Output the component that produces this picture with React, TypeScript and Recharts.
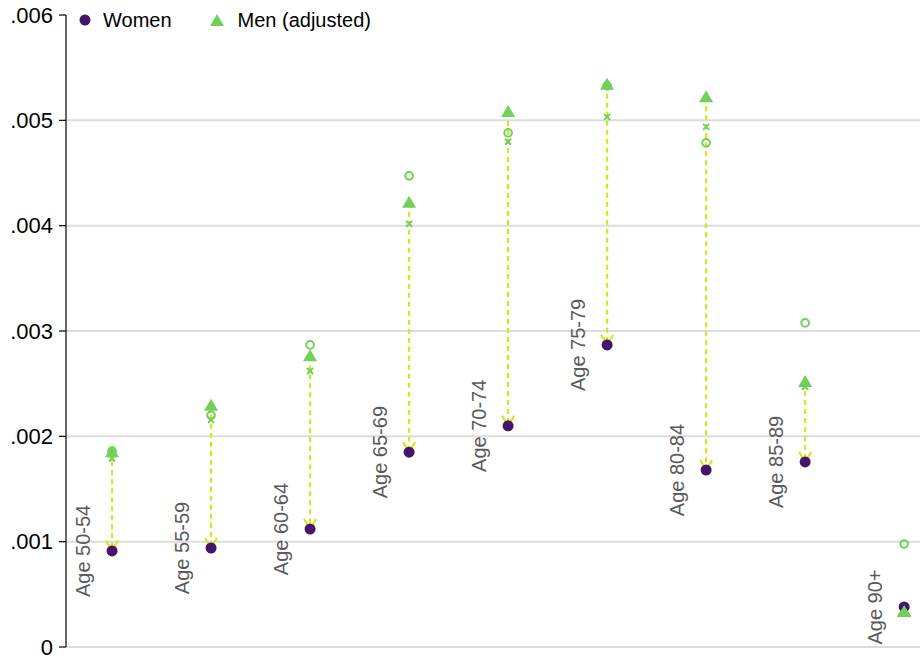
import React from 'react';
import { ScatterChart, Scatter, XAxis, YAxis, ReferenceLine } from 'recharts';

// age groups, left to right
const ages = ['Age 50-54', 'Age 55-59', 'Age 60-64', 'Age 65-69', 'Age 70-74', 'Age 75-79', 'Age 80-84', 'Age 85-89', 'Age 90+'];

// rates per age group
const women = [0.000912, 0.00094, 0.00112, 0.00185, 0.0021, 0.002868, 0.00168, 0.001757, 0.00038];
const menAdjusted = [0.00185, 0.00229, 0.00276, 0.004217, 0.00508, 0.005337, 0.00522, 0.002517, 0.000332];
const menCircle = [0.00186, 0.0022, 0.002868, 0.004473, 0.004881, 0.005328, 0.004786, 0.003077, 0.000978];
const menCross = [0.00179, 0.002156, 0.002621, 0.004017, 0.004796, 0.005033, 0.004938, 0.00247, 0.00032];

const yTicks = [0, 0.001, 0.002, 0.003, 0.004, 0.005, 0.006];
const gridValues = [0, 0.001, 0.002, 0.003, 0.004, 0.005];

const FONT = '"Liberation Sans", Arial, sans-serif';
const PURPLE = '#44156a';
const GREEN = '#6fd05a';
const ARROW = '#d4e61c';
const ARROW_UP = '#e8364f';

const pts = (vals: number[]) => vals.map((y, i) => ({ x: i + 1, y, age: ages[i] }));

const fmtTick = (v: number) => (v === 0 ? '0' : v.toFixed(3).replace(/^0/, ''));

const womanDot = (p: any) => <circle cx={p.cx} cy={p.cy} r={5.5} fill={PURPLE} />;

const triangle = (p: any) => {
  const { cx, cy } = p;
  return <path d={`M${cx},${cy - 7} L${cx + 7},${cy + 5} L${cx - 7},${cy + 5} Z`} fill={GREEN} />;
};

const ring = (p: any) => <circle cx={p.cx} cy={p.cy} r={3.8} fill="none" stroke={GREEN} strokeWidth={2} />;

const cross = (p: any) => {
  const { cx, cy } = p;
  const s = 3;
  return (
    <g stroke={GREEN} strokeWidth={2}>
      <line x1={cx - s} y1={cy - s} x2={cx + s} y2={cy + s} />
      <line x1={cx - s} y1={cy + s} x2={cx + s} y2={cy - s} />
    </g>
  );
};

const ageLabel = (p: any) => {
  const x = p.cx - 22;
  return (
    <text
      x={x}
      y={p.cy}
      transform={`rotate(-90 ${x} ${p.cy})`}
      textAnchor="middle"
      fontSize={20}
      fontFamily={FONT}
      fill="#595959"
    >
      {p.payload.age}
    </text>
  );
};

// dashed line with an open arrowhead at the far end
const arrowShape = (color: string) => (p: any) => {
  const { x1, y1, x2, y2 } = p;
  const dx = x2 - x1;
  const dy = y2 - y1;
  const len = Math.hypot(dx, dy) || 1;
  const ux = dx / len;
  const uy = dy / len;
  const bx = x2 - ux * 10;
  const by = y2 - uy * 10;
  const h = 6;
  return (
    <g>
      <line x1={x1} y1={y1} x2={x2} y2={y2} stroke={color} strokeWidth={2.2} strokeDasharray="5 4" />
      <polyline
        points={`${bx - uy * h},${by + ux * h} ${x2},${y2} ${bx + uy * h},${by - ux * h}`}
        fill="none"
        stroke={color}
        strokeWidth={2.2}
      />
    </g>
  );
};

const Legend = () => (
  <div
    style={{
      position: 'absolute',
      top: 8,
      left: 79,
      height: 24,
      display: 'flex',
      alignItems: 'center',
      fontFamily: FONT,
      fontSize: 20,
      color: '#000',
    }}
  >
    <svg width={12} height={12} style={{ marginRight: 12 }}>
      <circle cx={6} cy={6} r={5.5} fill={PURPLE} />
    </svg>
    <span>Women</span>
    <svg width={16} height={14} style={{ marginLeft: 37, marginRight: 13 }}>
      <path d="M8,1 L15,13 L1,13 Z" fill={GREEN} />
    </svg>
    <span>Men (adjusted)</span>
  </div>
);

export default function App() {
  return (
    <div style={{ position: 'absolute', left: 0, top: 0, width: 920, height: 660, background: '#fff' }}>
      <ScatterChart width={920} height={660} margin={{ top: 15, right: 0, bottom: 13, left: 0 }}>
        <XAxis type="number" dataKey="x" domain={[0.535, 9.16]} hide />
        <YAxis
          type="number"
          dataKey="y"
          domain={[0, 0.006]}
          ticks={yTicks}
          interval={0}
          width={66}
          tickFormatter={fmtTick}
          tick={{ fill: '#000', fontSize: 22, fontFamily: FONT }}
          tickSize={7}
          tickMargin={6}
          axisLine={{ stroke: '#000', strokeWidth: 1.2 }}
          tickLine={{ stroke: '#000', strokeWidth: 1.2 }}
        />
        {gridValues.map((v) => (
          <ReferenceLine key={`g${v}`} y={v} stroke="#dcdcdc" strokeWidth={2} />
        ))}
        {ages.map((a, i) => (
          <ReferenceLine
            key={`a${a}`}
            segment={[
              { x: i + 1, y: menAdjusted[i] },
              { x: i + 1, y: women[i] },
            ]}
            ifOverflow="visible"
            shape={arrowShape(menAdjusted[i] < women[i] ? ARROW_UP : ARROW)}
          />
        ))}
        <Scatter data={pts(women)} shape={ageLabel} isAnimationActive={false} />
        <Scatter data={pts(women)} shape={womanDot} isAnimationActive={false} />
        <Scatter data={pts(menCircle)} shape={ring} isAnimationActive={false} />
        <Scatter data={pts(menCross)} shape={cross} isAnimationActive={false} />
        <Scatter data={pts(menAdjusted)} shape={triangle} isAnimationActive={false} />
      </ScatterChart>
      <Legend />
    </div>
  );
}
